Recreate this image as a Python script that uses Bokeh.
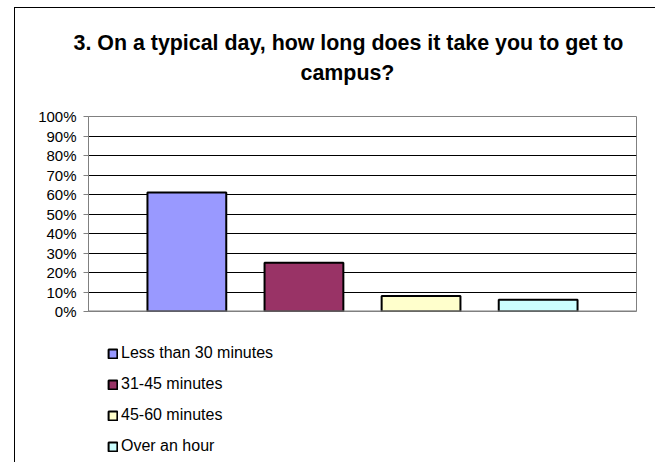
from bokeh.plotting import figure
from bokeh.layouts import column
from bokeh.models import (ColumnDataSource, Range1d, SingleIntervalTicker,
                          NumeralTickFormatter, Legend, LegendItem, Title, Span)
from bokeh.embed import file_html
from bokeh.resources import INLINE

# ---- data ----
categories = ["Less than 30 minutes", "31-45 minutes", "45-60 minutes", "Over an hour"]
values = [0.61, 0.25, 0.08, 0.06]
colors = ["#9999FF", "#993366", "#FFFFCC", "#CCFFFF"]
title_lines = ["3. On a typical day, how long does it take you to get to", "campus?"]

FONT = "Liberation Sans"
W = 640
BL, BR = 73, 19

# ---- chart ----
p = figure(width=W, height=317, output_backend="svg", toolbar_location=None,
           x_range=Range1d(-0.84, 3.84), y_range=Range1d(0, 1),
           min_border_left=BL, min_border_right=BR, min_border_top=108,
           min_border_bottom=14)
p.background_fill_color = "white"
p.border_fill_color = "white"
p.outline_line_color = "#808080"

src = ColumnDataSource(dict(x=list(range(len(categories))), top=values,
                            color=colors, cat=categories))
r = p.vbar(x="x", top="top", width=0.673, bottom=0, source=src,
           fill_color="color", line_color="black", line_width=2)

p.xaxis.visible = False
p.xgrid.visible = False
yax = p.yaxis[0]
yax.ticker = SingleIntervalTicker(interval=0.1, num_minor_ticks=0)
yax.formatter = NumeralTickFormatter(format="0%")
yax.axis_line_color = "#808080"
yax.major_tick_line_color = "#808080"
yax.major_tick_in = 0
yax.major_tick_out = 5
yax.minor_tick_line_color = None
yax.major_label_standoff = 7
yax.major_label_text_font = FONT
yax.major_label_text_font_size = "15px"
yax.major_label_text_color = "black"
p.ygrid.ticker = SingleIntervalTicker(interval=0.1, num_minor_ticks=0)
p.ygrid.grid_line_color = "black"
p.ygrid.grid_line_width = 1
p.add_layout(Span(location=0, dimension="width", line_color="#808080", line_width=2))

# ---- title (stacked above the plot; last added is farthest from it) ----
title_style = dict(text_font=FONT, text_font_size="21.4px", text_font_style="bold",
                   text_color="black", align="left")
p.add_layout(Title(text=" ", standoff=6, **title_style), "above")          # spacer
p.add_layout(Title(text=title_lines[1], offset=212, standoff=0, **title_style), "above")
p.add_layout(Title(text=title_lines[0], offset=-15, standoff=7, **title_style), "above")

# ---- legend strip ----
lfig = figure(width=W, height=137, output_backend="svg", toolbar_location=None,
              x_range=Range1d(0, 1), y_range=Range1d(0, 1),
              x_axis_type=None, y_axis_type=None,
              min_border_left=BL, min_border_right=BR, min_border_top=0,
              min_border_bottom=0)
lfig.outline_line_color = None
lfig.background_fill_color = "white"
lfig.border_fill_color = "white"
# legend proxy bars (hidden renderer; only their legend swatches are shown)
lsrc = ColumnDataSource(dict(x=[0.5] * len(categories), top=values, color=colors))
lr = lfig.vbar(x="x", top="top", width=0.1, source=lsrc,
               fill_color="color", line_color="black", line_width=2)
lr.visible = False
items = [LegendItem(label=c, renderers=[lr], index=i) for i, c in enumerate(categories)]
legend = Legend(items=items, location="top_left", orientation="vertical",
                glyph_width=11, glyph_height=11, label_height=11, spacing=13,
                label_standoff=3, padding=0, margin=19,
                label_text_font=FONT, label_text_font_size="16px",
                label_text_color="black", border_line_color=None,
                background_fill_alpha=0, inactive_fill_alpha=0)
lfig.add_layout(legend, "center")

layout = column(p, lfig, spacing=0)
layout.styles = {"margin-left": "14px", "margin-top": "7px",
                 "border-left": "1px solid black", "border-top": "1px solid black"}

open("out.html", "w").write(file_html(layout, INLINE))
